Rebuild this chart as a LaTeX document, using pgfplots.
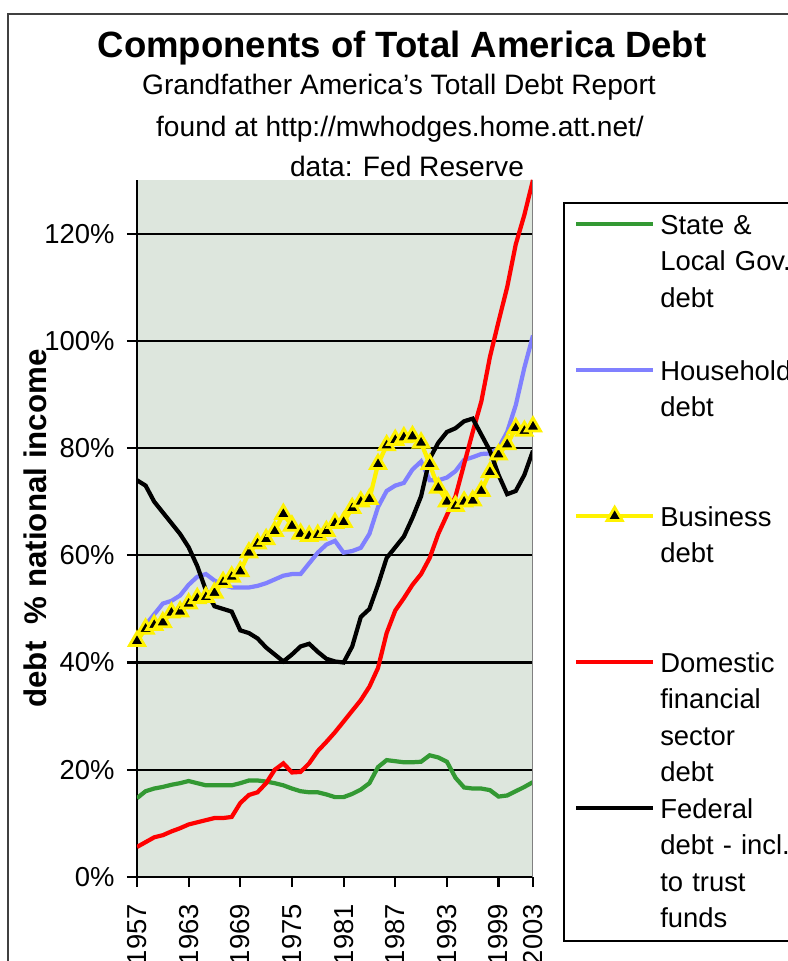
\documentclass[border=0pt]{standalone}
\usepackage{pgfplots}
\pgfplotsset{compat=1.18}
\usepackage{pgfplotstable}
\usepackage{fontspec}
\setmainfont{Liberation Sans}
\definecolor{bgc}{RGB}{221,230,221}
\definecolor{sgreen}{RGB}{51,153,51}
\definecolor{hblue}{RGB}{128,128,255}
\pgfplotstableread{
year state house business fin fed
1957 14.7 45.0 44.0 5.6 74.0
1958 16.0 47.0 46.3 6.5 73.0
1959 16.5 49.0 47.0 7.4 70.0
1960 16.8 51.0 47.5 7.8 68.0
1961 17.2 51.5 49.3 8.5 66.0
1962 17.5 52.5 49.5 9.1 64.0
1963 17.9 54.5 51.0 9.8 61.5
1964 17.5 56.0 52.0 10.2 58.0
1965 17.1 56.5 52.2 10.6 53.5
1966 17.1 55.3 53.0 11.0 50.5
1967 17.1 54.5 55.0 11.0 50.0
1968 17.1 54.0 56.0 11.2 49.5
1969 17.5 54.0 57.0 13.8 46.0
1970 18.0 54.0 60.5 15.3 45.5
1971 18.0 54.3 62.2 15.8 44.5
1972 17.8 54.8 63.0 17.5 42.8
1973 17.5 55.5 64.5 20.0 41.5
1974 17.1 56.2 67.7 21.2 40.2
1975 16.5 56.5 65.5 19.5 41.5
1976 16.0 56.5 64.0 19.6 43.0
1977 15.8 58.5 63.6 21.2 43.5
1978 15.8 60.5 63.8 23.5 42.0
1979 15.4 62.0 64.5 25.2 40.7
1980 14.9 62.7 66.0 27.0 40.2
1981 14.9 60.5 66.2 29.0 40.0
1982 15.5 60.8 68.8 31.0 43.0
1983 16.3 61.4 70.0 33.0 48.5
1984 17.5 64.0 70.5 35.5 50.0
1985 20.5 69.0 77.0 39.0 54.5
1986 21.8 72.0 80.5 45.5 59.5
1987 21.6 73.0 81.5 49.7 61.5
1988 21.4 73.5 82.0 52.0 63.5
1989 21.4 76.0 82.2 54.5 67.0
1990 21.5 77.5 81.0 56.5 71.0
1991 22.7 74.0 77.0 59.5 78.0
1992 22.3 74.0 72.6 64.0 81.0
1993 21.5 74.5 70.0 67.5 83.0
1994 18.5 75.7 69.2 71.0 83.7
1995 16.7 77.8 70.0 77.0 85.0
1996 16.5 78.3 70.2 83.0 85.5
1997 16.5 78.9 72.0 88.7 82.5
1998 16.2 79.0 75.5 97.0 79.5
1999 15.0 80.0 78.8 103.6 75.0
2000 15.2 83.0 80.7 110.0 71.4
2001 16.0 88.0 83.7 118.0 72.0
2002 16.8 95.0 83.2 123.5 75.0
2003 17.7 101.0 84.0 130.0 79.5
}\debtdata
\begin{document}
\begin{tikzpicture}
\path[use as bounding box] (0,0) rectangle (7.88,9.61);
\clip (0,0) rectangle (7.88,9.61);
\draw[line width=0.6pt, black!75] (0.08,-0.5) -- (0.08,9.47) -- (8.5,9.47);
\node[anchor=base, font=\bfseries\fontsize{10.4pt}{12pt}\selectfont] at (4.02,9.03) {Components of Total America Debt};
\node[anchor=base, font=\fontsize{8pt}{9.6pt}\selectfont] at (3.99,8.66) {Grandfather America's Totall Debt Report};
\node[anchor=base, font=\fontsize{8pt}{9.6pt}\selectfont] at (4.00,8.24) {found at http://mwhodges.home.att.net/};
\node[anchor=base, font=\fontsize{8pt}{9.6pt}\selectfont] at (4.07,7.84) {data: Fed Reserve};
\begin{axis}[
  at={(1.37cm,0.84cm)}, anchor=south west,
  scale only axis, width=3.96cm, height=6.97cm,
  xmin=1957, xmax=2003, ymin=0, ymax=130,
  axis background/.style={fill=bgc},
  axis x line*=bottom, axis y line*=left,
  axis line style={black, line width=0.6pt, -},
  tick align=outside, major tick length=0.1cm,
  tick style={black, line width=0.6pt},
  xtick={1957,1963,1969,1975,1981,1987,1993,1999,2003},
  xticklabels={1957,1963,1969,1975,1981,1987,1993,1999,2003},
  ytick={0,20,40,60,80,100,120},
  yticklabels={0\%,20\%,40\%,60\%,80\%,100\%,120\%},
  ymajorgrids, grid style={black, line width=0.6pt},
  ticklabel style={font=\fontsize{7.8pt}{9pt}\selectfont},
  xticklabel shift=0.13cm,
  x tick label style={rotate=90, anchor=east, inner sep=1pt},
  ylabel={debt \ \% national income},
  ylabel style={font=\bfseries\fontsize{8.9pt}{10pt}\selectfont, at={(rel axis cs:-0.258,0.5)}, anchor=center},
  legend style={at={(rel axis cs:1.0758,0.9684)}, anchor=north west, draw=black, line width=0.6pt, fill=white,
    inner xsep=0.1cm, inner ysep=0.04cm, column sep=0.05cm, row sep=0pt,
    font=\fontsize{7.8pt}{10.4pt}\selectfont, cells={anchor=base west},
    nodes={text width=1.7cm, align=left, inner sep=0pt, text height=0.27cm, text depth=1.19cm}},
  legend image code/.code={\draw[mark repeat=2, mark phase=2, #1] plot coordinates {(0cm,0.1cm) (0.385cm,0.1cm) (0.77cm,0.1cm)};},
]
\addplot[sgreen, line width=1.2pt] table[x=year, y=state] {\debtdata};
\addlegendentry{State \&\\Local Gov.\\debt}
\addplot[hblue, line width=1.2pt] table[x=year, y=house] {\debtdata};
\addlegendentry{Household\\debt}
\addplot[yellow, line width=1.2pt, mark=triangle*, mark size=2.5pt, mark options={fill=black, draw=yellow, line width=0.8pt, solid}] table[x=year, y=business] {\debtdata};
\addlegendentry{Business\\debt}
\addplot[red, line width=1.2pt] table[x=year, y=fin] {\debtdata};
\addlegendentry{Domestic\\financial\\sector\\debt}
\addplot[black, line width=1.2pt] table[x=year, y=fed] {\debtdata};
\addlegendentry{Federal\\debt - incl.\\to trust\\funds}
\draw[gray, line width=0.6pt] (rel axis cs:1,0) -- (rel axis cs:1,1);
\end{axis}
\end{tikzpicture}
\end{document}
